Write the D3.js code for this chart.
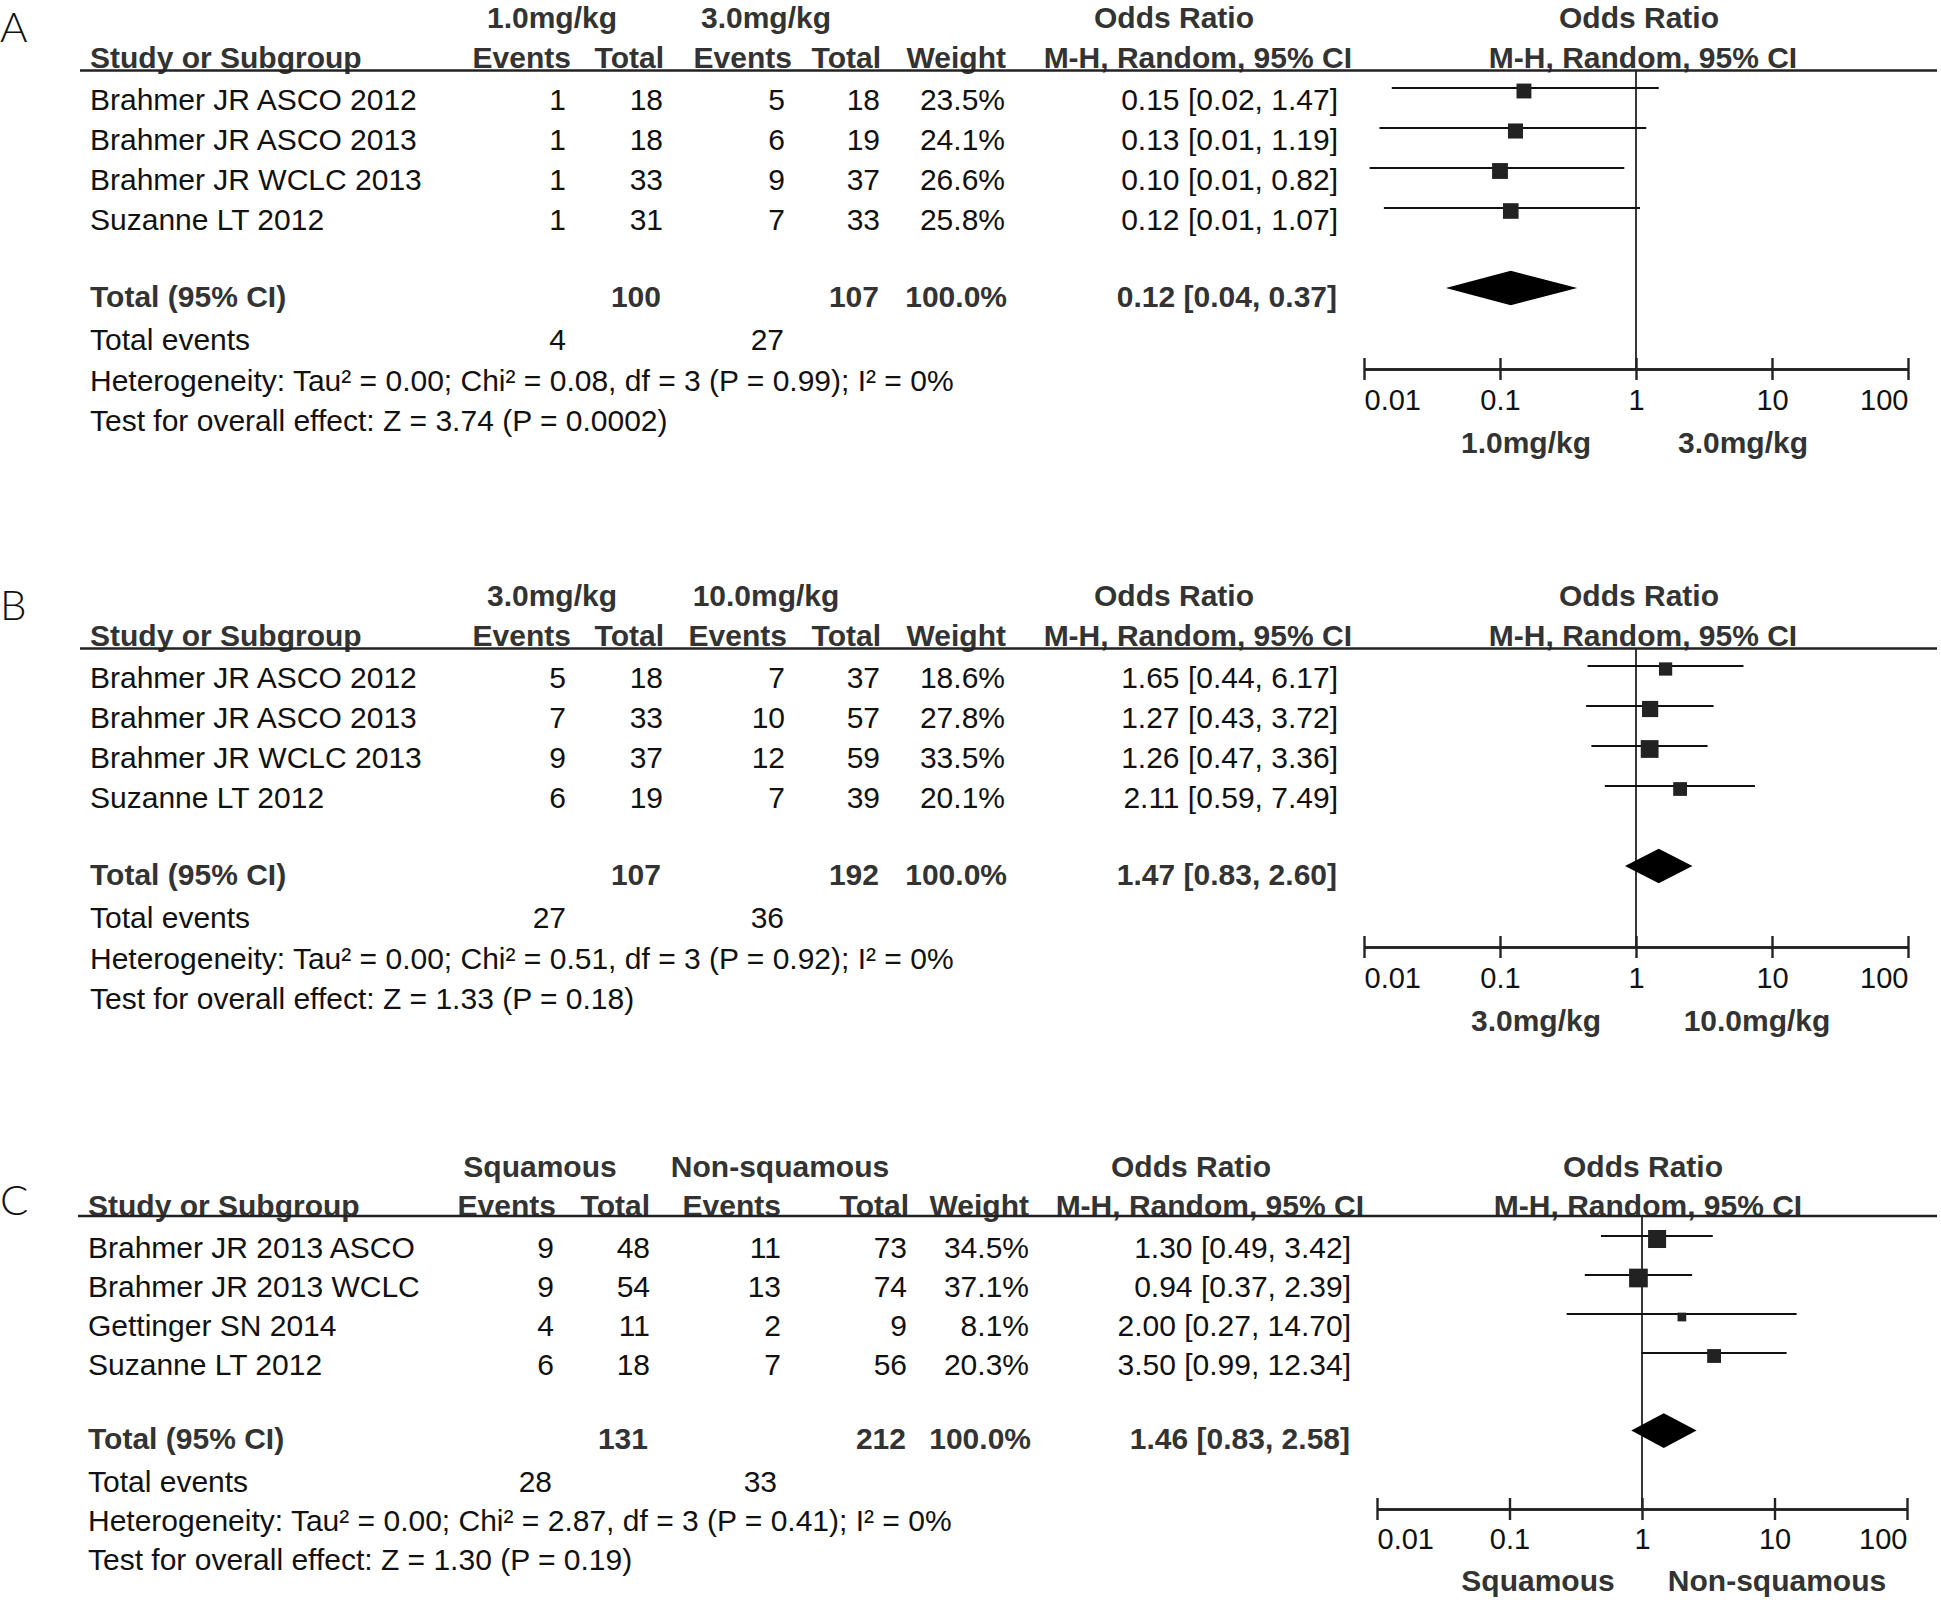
<!DOCTYPE html>
<html><head><meta charset="utf-8">
<script src="https://cdn.jsdelivr.net/npm/d3@7"></script>
<style>body{margin:0;background:#fff}svg{display:block}</style>
</head><body>
<svg id="c" width="1941" height="1600"></svg>
<script>
// ---------------- DATA ----------------
const panelLetters = ["A", "B", "C"];
const tickValues = [0.01, 0.1, 1, 10, 100];
const tickLabels = ["0.01", "0.1", "1", "10", "100"];
const colHeaders = ["Events", "Total", "Events", "Total", "Weight"];

// Panel A
const groupsA = ["1.0mg/kg", "3.0mg/kg"];
const studiesA = ["Brahmer JR ASCO 2012", "Brahmer JR ASCO 2013", "Brahmer JR WCLC 2013", "Suzanne LT 2012"];
const ev1A = [1, 1, 1, 1];
const tot1A = [18, 18, 33, 31];
const ev2A = [5, 6, 9, 7];
const tot2A = [18, 19, 37, 33];
const weightA = [23.5, 24.1, 26.6, 25.8];
const orA = [0.15, 0.13, 0.10, 0.12];
const loA = [0.016, 0.013, 0.011, 0.014];
const hiA = [1.47, 1.19, 0.82, 1.07];
const pooledA = [0.12, 0.04, 0.37];
const totalsA = [100, 107];
const totalEventsA = [4, 27];
const hetA = "Heterogeneity: Tau² = 0.00; Chi² = 0.08, df = 3 (P = 0.99); I² = 0%";
const testA = "Test for overall effect: Z = 3.74 (P = 0.0002)";

// Panel B
const groupsB = ["3.0mg/kg", "10.0mg/kg"];
const studiesB = ["Brahmer JR ASCO 2012", "Brahmer JR ASCO 2013", "Brahmer JR WCLC 2013", "Suzanne LT 2012"];
const ev1B = [5, 7, 9, 6];
const tot1B = [18, 33, 37, 19];
const ev2B = [7, 10, 12, 7];
const tot2B = [37, 57, 59, 39];
const weightB = [18.6, 27.8, 33.5, 20.1];
const orB = [1.65, 1.27, 1.26, 2.11];
const loB = [0.44, 0.43, 0.47, 0.59];
const hiB = [6.17, 3.72, 3.36, 7.49];
const pooledB = [1.47, 0.83, 2.60];
const totalsB = [107, 192];
const totalEventsB = [27, 36];
const hetB = "Heterogeneity: Tau² = 0.00; Chi² = 0.51, df = 3 (P = 0.92); I² = 0%";
const testB = "Test for overall effect: Z = 1.33 (P = 0.18)";

// Panel C
const groupsC = ["Squamous", "Non-squamous"];
const studiesC = ["Brahmer JR 2013 ASCO", "Brahmer JR 2013 WCLC", "Gettinger SN 2014", "Suzanne LT 2012"];
const ev1C = [9, 9, 4, 6];
const tot1C = [48, 54, 11, 18];
const ev2C = [11, 13, 2, 7];
const tot2C = [73, 74, 9, 56];
const weightC = [34.5, 37.1, 8.1, 20.3];
const orC = [1.30, 0.94, 2.00, 3.50];
const loC = [0.49, 0.37, 0.27, 0.99];
const hiC = [3.42, 2.39, 14.70, 12.34];
const pooledC = [1.46, 0.83, 2.58];
const totalsC = [131, 212];
const totalEventsC = [28, 33];
const hetC = "Heterogeneity: Tau² = 0.00; Chi² = 2.87, df = 3 (P = 0.41); I² = 0%";
const testC = "Test for overall effect: Z = 1.30 (P = 0.19)";

// ---------------- DRAWING ----------------
const svg = d3.select("#c");
const FONT = '"Liberation Sans", Arial, Helvetica, sans-serif';
const FS = 30;
const HEAD = "#333";
const INK = "#111";

function txt(g, x, y, s, o = {}) {
  const f = o.fs || FS;
  return g.append("text")
    .attr("x", x).attr("y", y + f * 0.36)
    .attr("text-anchor", o.anchor || "start")
    .attr("font-family", o.family || FONT)
    .attr("font-size", f)
    .attr("font-weight", o.weight || (o.bold ? "bold" : "normal"))
    .attr("fill", o.fill || (o.bold ? HEAD : INK))
    .text(s);
}

const sizeScale = d3.scaleSqrt().domain([0, 100]).range([0, 30.7]);
const fmt2 = v => v.toFixed(2);
const ciText = (o, l, h) => `${fmt2(o)} [${fmt2(l)}, ${fmt2(h)}]`;

function drawPanel(d, L) {
  const g = svg.append("g");
  // panel letter
  txt(g, L.letterX, L.letterY, d.letter, {fs: 42, family: "Lato, 'Open Sans', sans-serif", weight: 300, fill: "#111"});
  // group headers
  txt(g, L.groupX[0], L.groupY, d.groups[0], {bold: true, anchor: "middle"});
  txt(g, L.groupX[1], L.groupY, d.groups[1], {bold: true, anchor: "middle"});
  txt(g, L.orTitleX, L.groupY, "Odds Ratio", {bold: true, anchor: "middle"});
  txt(g, L.orTitleRX, L.groupY, "Odds Ratio", {bold: true, anchor: "middle"});
  // column headers
  txt(g, L.studyX, L.headY, "Study or Subgroup", {bold: true});
  colHeaders.forEach((h, i) => txt(g, L.headCols[i], L.headY, h, {bold: true, anchor: "end"}));
  txt(g, L.mhX, L.headY, "M-H, Random, 95% CI", {bold: true, anchor: "end"});
  txt(g, L.mhRX, L.headY, "M-H, Random, 95% CI", {bold: true, anchor: "middle"});
  // header rule
  g.append("line").attr("x1", L.ruleX1).attr("x2", 1937).attr("y1", L.ruleY).attr("y2", L.ruleY)
    .attr("stroke", "#222").attr("stroke-width", 2.5);

  const y = d3.scaleLinear().domain([0, d.studies.length - 1]).range(L.rowY);
  d.studies.forEach((s, i) => {
    const yy = y(i);
    txt(g, L.studyX, yy, s);
    txt(g, L.valCols[0], yy, d.ev1[i], {anchor: "end"});
    txt(g, L.valCols[1], yy, d.tot1[i], {anchor: "end"});
    txt(g, L.valCols[2], yy, d.ev2[i], {anchor: "end"});
    txt(g, L.valCols[3], yy, d.tot2[i], {anchor: "end"});
    txt(g, L.valCols[4], yy, d.weight[i].toFixed(1) + "%", {anchor: "end"});
    txt(g, L.ciX, yy, ciText(d.or[i], d.lo[i], d.hi[i]), {anchor: "end"});
  });
  // totals
  txt(g, L.studyX, L.totalY, "Total (95% CI)", {bold: true});
  txt(g, L.valCols[1] - 2, L.totalY, d.totals[0], {bold: true, anchor: "end"});
  txt(g, L.valCols[3] - 1, L.totalY, d.totals[1], {bold: true, anchor: "end"});
  txt(g, L.valCols[4] + 2, L.totalY, "100.0%", {bold: true, anchor: "end"});
  txt(g, L.ciX - 1, L.totalY, ciText(d.pooled[0], d.pooled[1], d.pooled[2]), {bold: true, anchor: "end"});
  txt(g, L.studyX, L.eventsY, "Total events");
  txt(g, L.teX[0], L.eventsY, d.totalEvents[0], {anchor: "end"});
  txt(g, L.teX[1], L.eventsY, d.totalEvents[1], {anchor: "end"});
  txt(g, L.studyX, L.hetY, d.het);
  txt(g, L.studyX, L.testY, d.test);

  // forest plot
  const x = d3.scaleLog().domain([0.01, 100]).range(L.xRange);
  // axis (lower half ticks + upper half ticks)
  const axB = g.append("g").attr("transform", `translate(0,${L.axisY})`)
    .call(d3.axisBottom(x).tickValues(tickValues).tickSizeInner(11).tickSizeOuter(0)
      .tickFormat((v, i) => tickLabels[i]));
  const axT = g.append("g").attr("transform", `translate(0,${L.axisY})`)
    .call(d3.axisTop(x).tickValues(tickValues).tickSizeInner(11).tickSizeOuter(0).tickFormat(""));
  [axB, axT].forEach(a => {
    a.select(".domain").attr("stroke", "#222").attr("stroke-width", 2.4);
    a.selectAll(".tick line").attr("stroke", "#222").attr("stroke-width", 2.4);
  });
  axB.selectAll(".tick text")
    .attr("y", L.tickLabelY - L.axisY + FS * 0.36 - 1).attr("dy", null)
    .attr("font-family", FONT).attr("font-size", 29).attr("fill", INK)
    .attr("text-anchor", (v, i) => i === 0 ? "start" : (i === tickValues.length - 1 ? "end" : "middle"));
  // null line
  g.append("line").attr("x1", x(1)).attr("x2", x(1)).attr("y1", L.ruleY).attr("y2", L.axisY)
    .attr("stroke", "#222").attr("stroke-width", 1.8);
  // CIs and squares
  d.studies.forEach((s, i) => {
    const ly = y(i) - 11;
    g.append("line").attr("x1", x(d.lo[i])).attr("x2", x(d.hi[i])).attr("y1", ly).attr("y2", ly)
      .attr("stroke", "#111").attr("stroke-width", 2);
    const sz = sizeScale(d.weight[i]);
    g.append("rect").attr("x", x(d.or[i]) - sz / 2).attr("y", ly + 3 - sz / 2)
      .attr("width", sz).attr("height", sz).attr("fill", "#222");
  });
  // diamond
  const dy = L.totalY - 8;
  g.append("path")
    .attr("d", `M${x(d.pooled[1])},${dy} L${x(d.pooled[0])},${dy - 17.3} L${x(d.pooled[2])},${dy} L${x(d.pooled[0])},${dy + 17.3} Z`)
    .attr("fill", "#000");
  // bottom labels
  txt(g, L.bottomX[0], L.bottomY, d.groups[0], {bold: true, anchor: "middle"});
  txt(g, L.bottomX[1], L.bottomY, d.groups[1], {bold: true, anchor: "middle"});
}

const layoutAB = (off, ev2Head, bx) => ({
  letterX: 0, letterY: 27 + off,
  groupY: 17.5 + off, groupX: [552, 766], orTitleX: 1174, orTitleRX: 1639,
  headY: 57 + off, studyX: 90, headCols: [571, 664, ev2Head, 881, 1006], mhX: 1352, mhRX: 1643,
  ruleY: 70.5 + off, ruleX1: 80,
  rowY: [99 + off, 219 + off],
  valCols: [566, 663, 785, 880, 1005], ciX: 1338,
  totalY: 296 + off, eventsY: 339 + off, hetY: 380 + off, testY: 420 + off,
  teX: [566, 784],
  xRange: [1364, 1908], axisY: 369 + off, tickLabelY: 400 + off,
  bottomY: 442 + off, bottomX: bx
});

const LA = layoutAB(0, 792, [1526, 1743]);
const LB = layoutAB(578, 787, [1536, 1757]);
const LC = {
  letterX: 0, letterY: 1200,
  groupY: 1166, groupX: [540, 780], orTitleX: 1191, orTitleRX: 1643,
  headY: 1205, studyX: 88, headCols: [556, 650, 781, 909, 1029], mhX: 1364, mhRX: 1648,
  ruleY: 1216, ruleX1: 78,
  rowY: [1247, 1364],
  valCols: [554, 650, 781, 907, 1029], ciX: 1351,
  totalY: 1438.6, eventsY: 1481, hetY: 1520, testY: 1559,
  teX: [552, 777],
  xRange: [1377, 1907], axisY: 1509, tickLabelY: 1539,
  bottomY: 1580, bottomX: [1538, 1777]
};

drawPanel({letter: panelLetters[0], groups: groupsA, studies: studiesA, ev1: ev1A, tot1: tot1A, ev2: ev2A, tot2: tot2A,
  weight: weightA, or: orA, lo: loA, hi: hiA, pooled: pooledA, totals: totalsA, totalEvents: totalEventsA, het: hetA, test: testA}, LA);
drawPanel({letter: panelLetters[1], groups: groupsB, studies: studiesB, ev1: ev1B, tot1: tot1B, ev2: ev2B, tot2: tot2B,
  weight: weightB, or: orB, lo: loB, hi: hiB, pooled: pooledB, totals: totalsB, totalEvents: totalEventsB, het: hetB, test: testB}, LB);
drawPanel({letter: panelLetters[2], groups: groupsC, studies: studiesC, ev1: ev1C, tot1: tot1C, ev2: ev2C, tot2: tot2C,
  weight: weightC, or: orC, lo: loC, hi: hiC, pooled: pooledC, totals: totalsC, totalEvents: totalEventsC, het: hetC, test: testC}, LC);
</script>
</body></html>
